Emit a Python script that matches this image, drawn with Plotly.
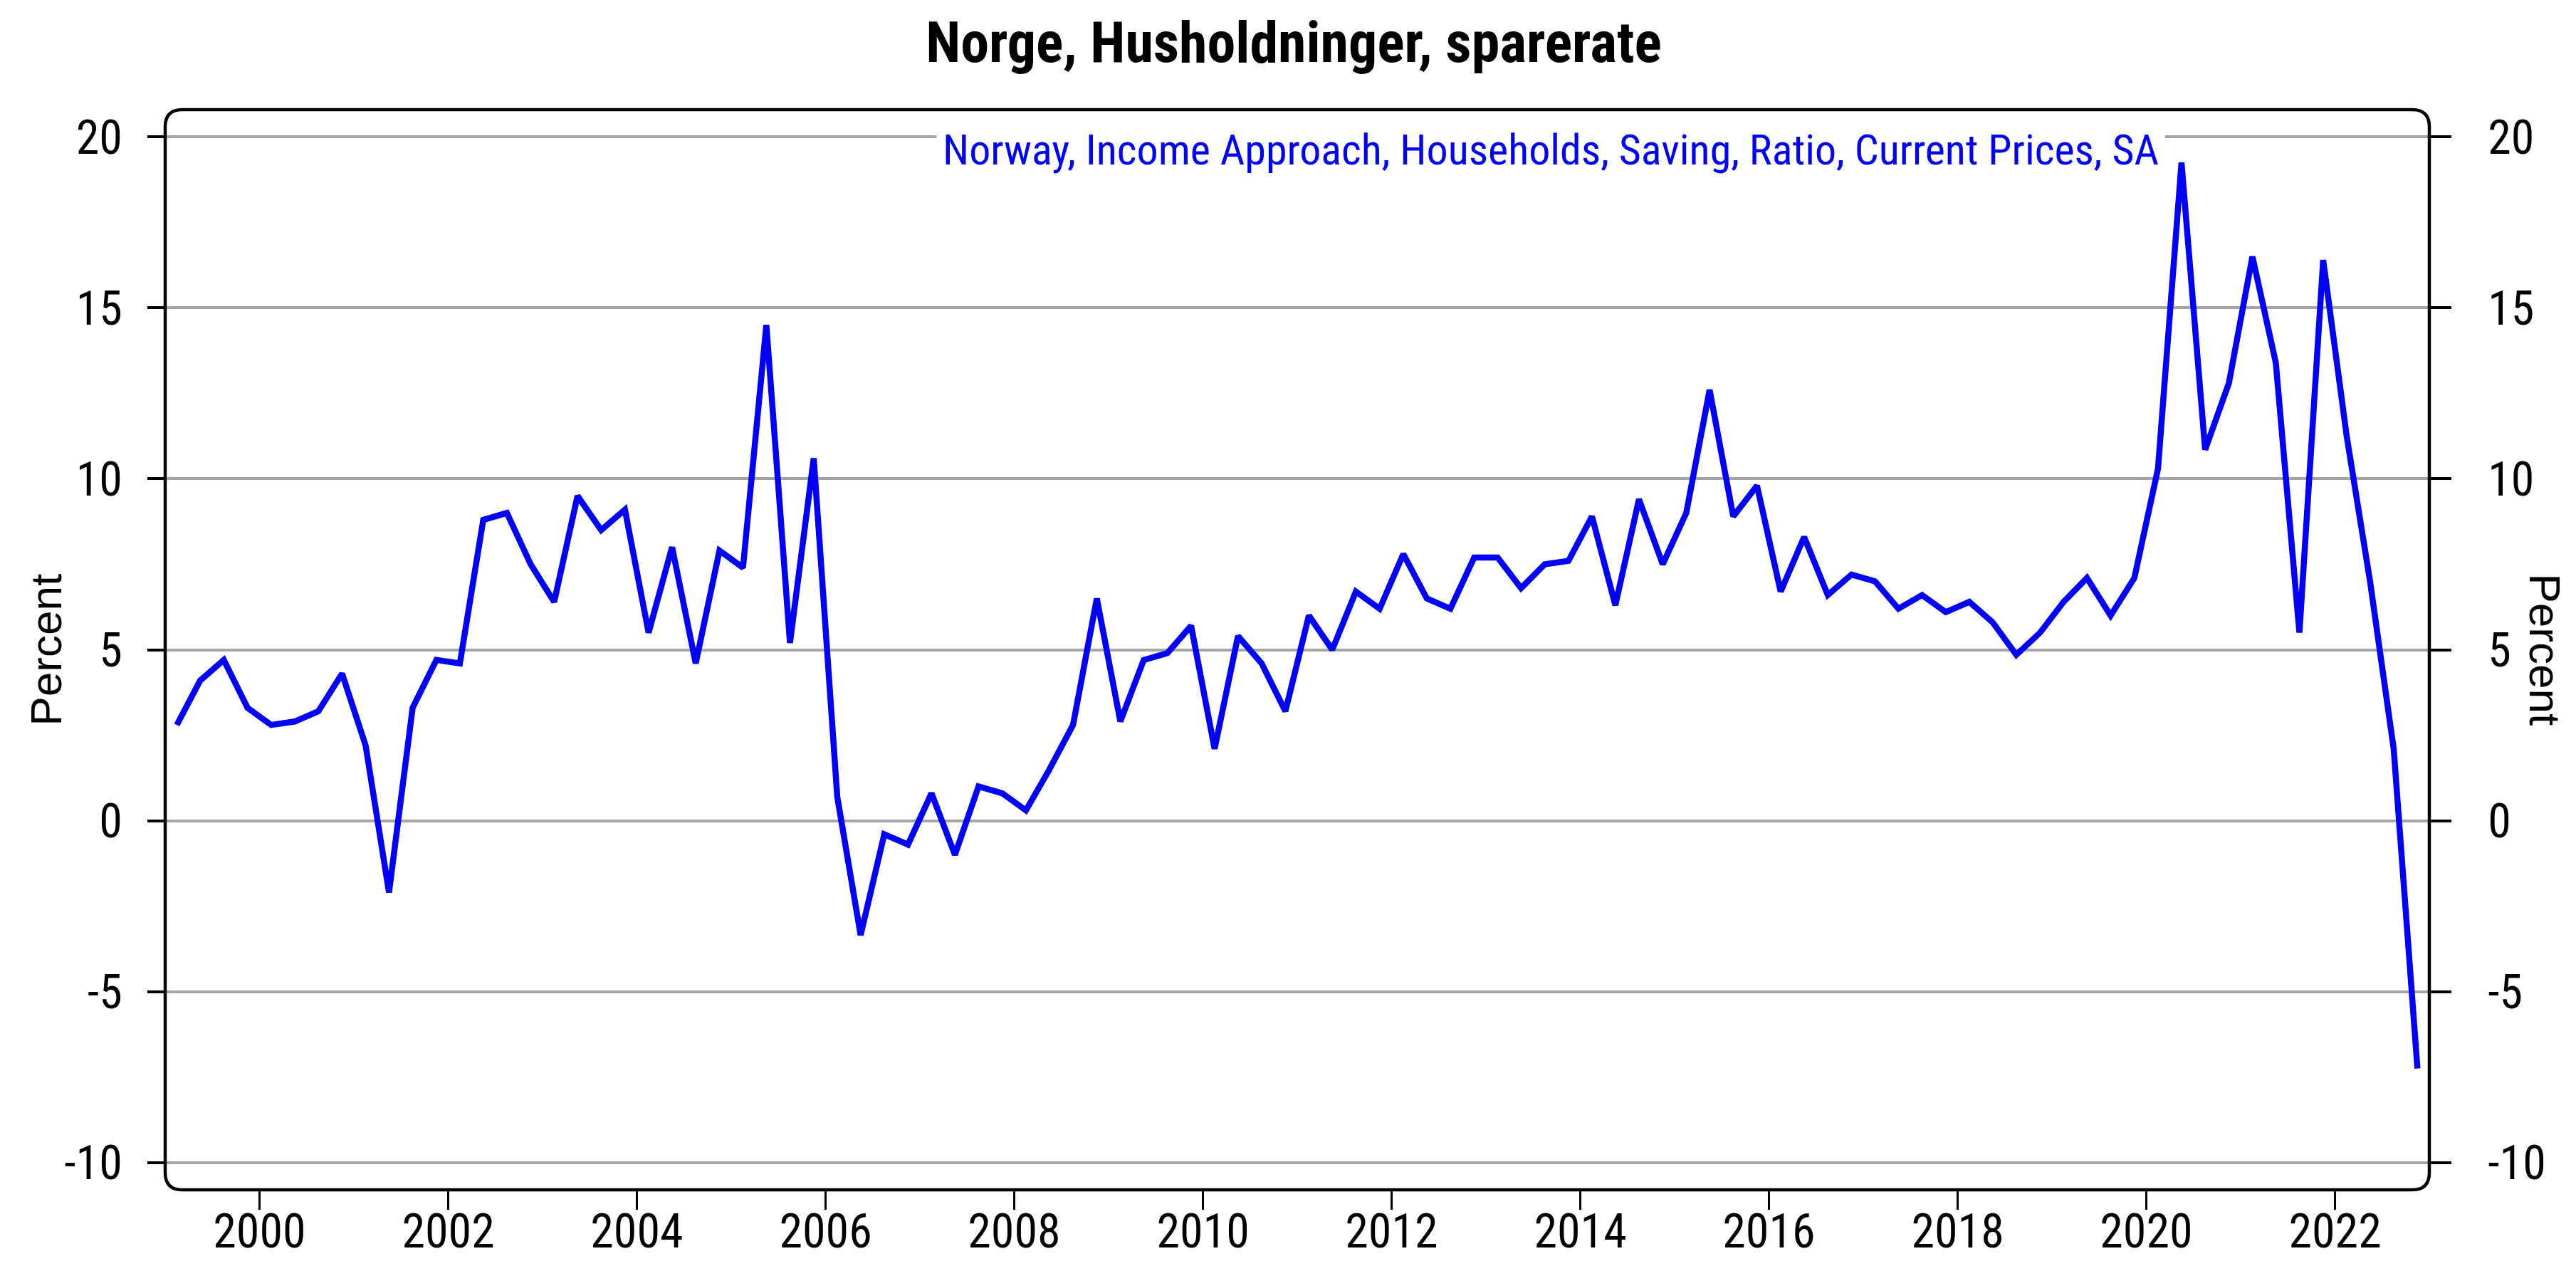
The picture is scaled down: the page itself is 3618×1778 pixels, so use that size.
import pandas as pd
import plotly.graph_objects as go

# ---- data ----
first_quarter = "1999Q1"
last_quarter = "2022Q4"
saving_ratio = [
    2.8, 4.1, 4.7, 3.3,      # 1999
    2.8, 2.9, 3.2, 4.3,      # 2000
    2.2, -2.1, 3.3, 4.7,     # 2001
    4.6, 8.8, 9.0, 7.5,      # 2002
    6.4, 9.5, 8.5, 9.1,      # 2003
    5.5, 8.0, 4.6, 7.9,      # 2004
    7.4, 14.5, 5.2, 10.6,    # 2005
    0.7, -3.35, -0.4, -0.7,  # 2006
    0.8, -1.0, 1.0, 0.8,     # 2007
    0.3, 1.5, 2.8, 6.5,      # 2008
    2.9, 4.7, 4.9, 5.7,      # 2009
    2.1, 5.4, 4.6, 3.2,      # 2010
    6.0, 5.0, 6.7, 6.2,      # 2011
    7.8, 6.5, 6.2, 7.7,      # 2012
    7.7, 6.8, 7.5, 7.6,      # 2013
    8.9, 6.3, 9.4, 7.5,      # 2014
    9.0, 12.6, 8.9, 9.8,     # 2015
    6.7, 8.3, 6.6, 7.2,      # 2016
    7.0, 6.2, 6.6, 6.1,      # 2017
    6.4, 5.8, 4.85, 5.5,     # 2018
    6.4, 7.1, 6.0, 7.1,      # 2019
    10.3, 19.25, 10.85, 12.8,  # 2020
    16.5, 13.4, 5.5, 16.4,   # 2021
    11.25, 7.0, 2.1, -7.25,  # 2022
]
series_name = "Norway, Income Approach, Households, Saving, Ratio, Current Prices, SA"
title_text = "Norge, Husholdninger, sparerate"
axis_title = "Percent"
y_tick_values = [-10, -5, 0, 5, 10, 15, 20]
y_tick_labels = ["-10", "-5", "0", "5", "10", "15", "20"]
x_tick_years = [2000, 2002, 2004, 2006, 2008, 2010, 2012, 2014, 2016, 2018, 2020, 2022]

# quarters plotted at mid-quarter
periods = pd.period_range(first_quarter, last_quarter, freq="Q")
x_dates = [p.start_time + (p.end_time - p.start_time) / 2 for p in periods]

NARROW = "Liberation Sans Narrow, Arial Narrow, Roboto Condensed, DejaVu Sans Condensed, Liberation Sans, Arial, sans-serif"
REG = "Liberation Sans, Arial, Helvetica, sans-serif"

W, H = 3618, 1778
ML, MR, MT, MB = 224, 214, 146, 115
PW, PH = W - ML - MR, H - MT - MB

fig = go.Figure()
fig.add_trace(go.Scatter(
    x=x_dates, y=saving_ratio, mode="lines", name=series_name,
    line=dict(color="#0000FF", width=8.5), showlegend=False,
))

yr = [-10.8, 20.8]
fig.update_layout(
    width=W, height=H,
    margin=dict(l=ML, r=MR, t=MT, b=MB, autoexpand=False),
    paper_bgcolor="white", plot_bgcolor="white",
    title=dict(text=title_text, x=0.5, xref="container", xanchor="center",
               y=1 - 51 / H, yref="container", yanchor="middle",
               font=dict(family=NARROW, size=80, color="black", weight="bold")),
    xaxis=dict(
        type="date", range=["1999-01-01", "2023-01-01"],
        tickmode="array",
        tickvals=[f"{y}-01-01" for y in x_tick_years],
        ticktext=[str(y) for y in x_tick_years],
        ticks="outside", ticklen=27, tickwidth=2.5, tickcolor="black",
        showgrid=False, zeroline=False, showline=False,
        tickfont=dict(family=NARROW, size=66, color="black"),
        ticklabelstandoff=-26,
    ),
    yaxis=dict(
        range=yr, tickmode="array", tickvals=y_tick_values, ticktext=y_tick_labels,
        ticks="outside", ticklen=24, tickwidth=4, tickcolor="black",
        showgrid=True, gridcolor="#A6A6A6", gridwidth=4,
        zeroline=False, showline=False,
        tickfont=dict(family=NARROW, size=66, color="black"),
        ticklabelstandoff=22,
    ),
    yaxis2=dict(
        range=yr, overlaying="y", side="right", anchor="x",
        tickmode="array", tickvals=y_tick_values, ticktext=y_tick_labels,
        ticks="outside", ticklen=30, tickwidth=4, tickcolor="black",
        showgrid=False, zeroline=False, showline=False,
        tickfont=dict(family=NARROW, size=66, color="black"),
        ticklabelstandoff=38,
    ),
)

# rounded frame around the plot area
rx, ry = 24 / PW, 24 / PH
frame = (f"M {rx},0 L {1-rx},0 Q 1,0 1,{ry} L 1,{1-ry} Q 1,1 {1-rx},1 "
         f"L {rx},1 Q 0,1 0,{1-ry} L 0,{ry} Q 0,0 {rx},0 Z")
fig.add_shape(type="path", path=frame, xref="paper", yref="paper",
              line=dict(color="black", width=4.5), layer="above")

# series label box on the top gridline
fig.add_annotation(
    text=series_name, x=(2170 - ML) / PW, y=(H - MB - 203) / PH,
    xref="paper", yref="paper", xanchor="center", yanchor="middle",
    showarrow=False, bgcolor="white", borderpad=8,
    font=dict(family=NARROW, size=60, color="#0000FF"),
)
# axis titles
fig.add_annotation(
    text=axis_title, x=(56 - ML) / PW, y=0.5, xref="paper", yref="paper",
    xanchor="center", yanchor="middle", textangle=-90, showarrow=False,
    font=dict(family=REG, size=62, color="black"),
)
fig.add_annotation(
    text=axis_title, x=(3566 - ML) / PW, y=0.5, xref="paper", yref="paper",
    xanchor="center", yanchor="middle", textangle=90, showarrow=False,
    font=dict(family=REG, size=62, color="black"),
)
# invisible companion so the right axis is rendered
fig.add_trace(go.Scatter(x=[x_dates[0]], y=[saving_ratio[0]], yaxis="y2", mode="lines",
                         line=dict(width=0), hoverinfo="skip", showlegend=False))

fig.write_html("out.html")
